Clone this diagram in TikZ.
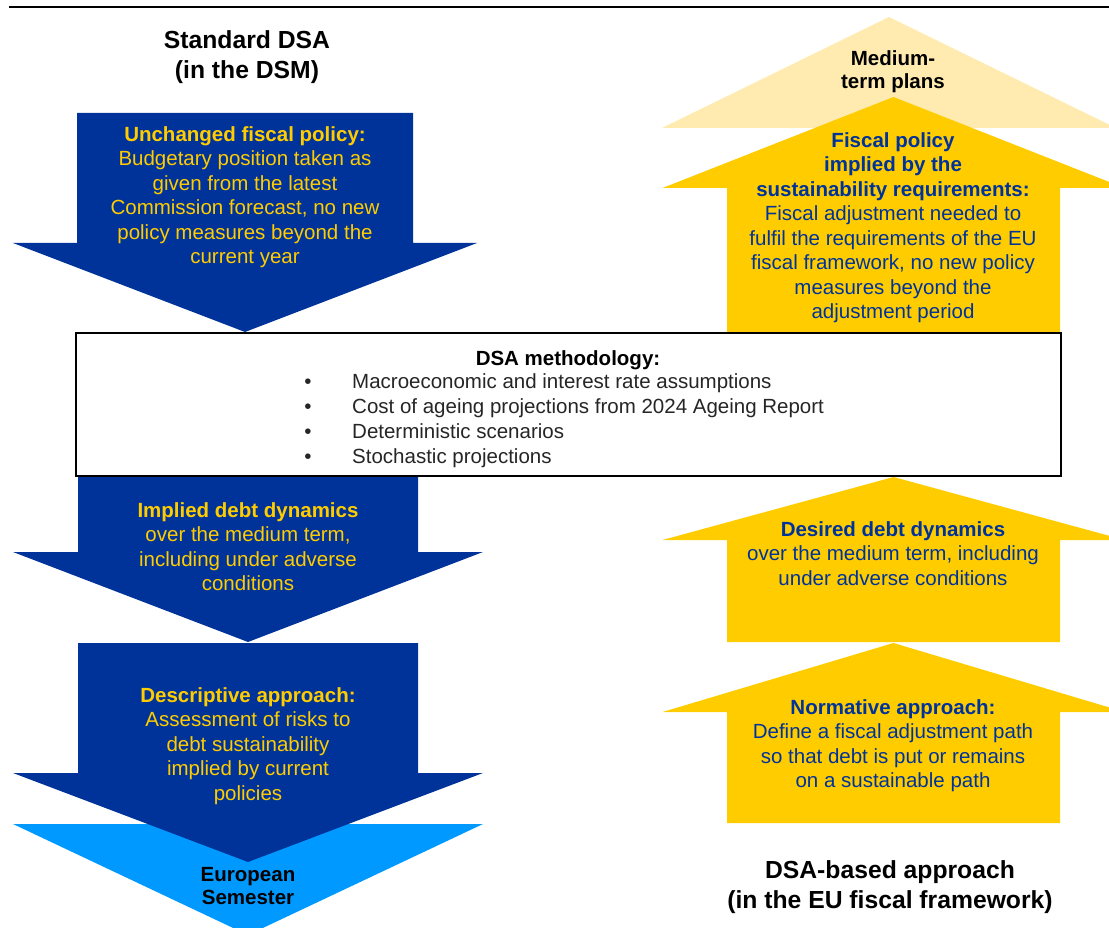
\documentclass[tikz,border=0pt]{standalone}
\usepackage{fontspec}
\setmainfont{Liberation Sans}
\definecolor{eublue}{HTML}{003399}
\definecolor{euyellow}{HTML}{FFCC00}
\definecolor{paleyellow}{HTML}{FFEBAF}
\definecolor{skyblue}{HTML}{0099FF}

\begin{document}
\begin{tikzpicture}[x=1pt,y=-1pt,
    lbl/.style={inner sep=0pt,align=center,anchor=north,font=\fontsize{20.5}{24.5}\selectfont},
    ttl/.style={inner sep=0pt,align=center,anchor=north,font=\bfseries\fontsize{24.7}{30}\selectfont},
    bul/.style={inner sep=0pt,anchor=base west,text=black!85,font=\fontsize{20.5}{24.5}\selectfont}]
    \useasboundingbox (0,0) rectangle (1109,928);
    \draw[line width=2pt] (9,7.5)--(1109,7.5);
    \fill[skyblue] (13,824)--(483,824)--(248,935)--cycle;
    \fill[paleyellow] (662,128)--(889,17)--(1116,128)--cycle;
    \foreach \c/\ya/\yb/\yc/\b/\h in {245/113/243/332/168/232,248/470/552/642/170/235,248/643/773/862/170/235}
        \fill[eublue] (\c-\b,\ya)--(\c+\b,\ya)--(\c+\b,\yb)--(\c+\h,\yb)--(\c,\yc)--(\c-\h,\yb)--(\c-\b,\yb)--cycle;
    \foreach \c/\ya/\yb/\yc/\b/\h in {893.5/340/188/97/166.5/231,893.5/642/540/477/166.5/231,893.5/823/712/643/166.5/231}
        \fill[euyellow] (\c-\b,\ya)--(\c+\b,\ya)--(\c+\b,\yb)--(\c+\h,\yb)--(\c,\yc)--(\c-\h,\yb)--(\c-\b,\yb)--cycle;
    \draw[line width=2.5pt,fill=white] (76,333) rectangle (1061,476);

    \node[ttl] (std) at (247,30.2) {Standard DSA\\(in the DSM)};
    \node[ttl] (based) at (890,860.2) {DSA-based approach\\(in the EU fiscal framework)};

    \node[lbl,text=euyellow] (unch) at (245,126.2) {\textbf{Unchanged fiscal policy:}\\Budgetary position taken as\\given from the latest\\Commission forecast, no new\\policy measures beyond the\\current year};
    \node[lbl,text=euyellow] (impl) at (248,502.2) {\textbf{Implied debt dynamics}\\over the medium term,\\including under adverse\\conditions};
    \node[lbl,text=euyellow] (descr) at (248,687.2) {\textbf{Descriptive approach:}\\Assessment of risks to\\debt sustainability\\implied by current\\policies};
    \node[lbl,font=\bfseries\fontsize{20.5}{23}\selectfont] (sem) at (248,867.2) {European\\Semester};

    \node[lbl,font=\bfseries\fontsize{20.5}{23.5}\selectfont] (mtp) at (893,50.2) {Medium-\\term plans};
    \node[lbl,text=eublue] (req) at (893,132.2) {\textbf{Fiscal policy}\\\textbf{implied by the}\\\textbf{sustainability requirements:}\\Fiscal adjustment needed to\\fulfil the requirements of the EU\\fiscal framework, no new policy\\measures beyond the\\adjustment period};
    \node[lbl,text=eublue] (desir) at (893,521.2) {\textbf{Desired debt dynamics}\\over the medium term, including\\under adverse conditions};
    \node[lbl,text=eublue] (norm) at (893,699.2) {\textbf{Normative approach:}\\Define a fiscal adjustment path\\so that debt is put or remains\\on a sustainable path};

    \node[lbl] (meth) at (568,350.2) {\textbf{DSA methodology:}};
    \foreach \txt [count=\i] in {Macroeconomic and interest rate assumptions,Cost of ageing projections from 2024 Ageing Report,Deterministic scenarios,Stochastic projections}
    {
        \node[bul,anchor=base] (dot\i) at (308,363+25*\i) {•};
        \node[bul] (item\i) at (352,363+25*\i) {\txt};
    }
\end{tikzpicture}
\end{document}
